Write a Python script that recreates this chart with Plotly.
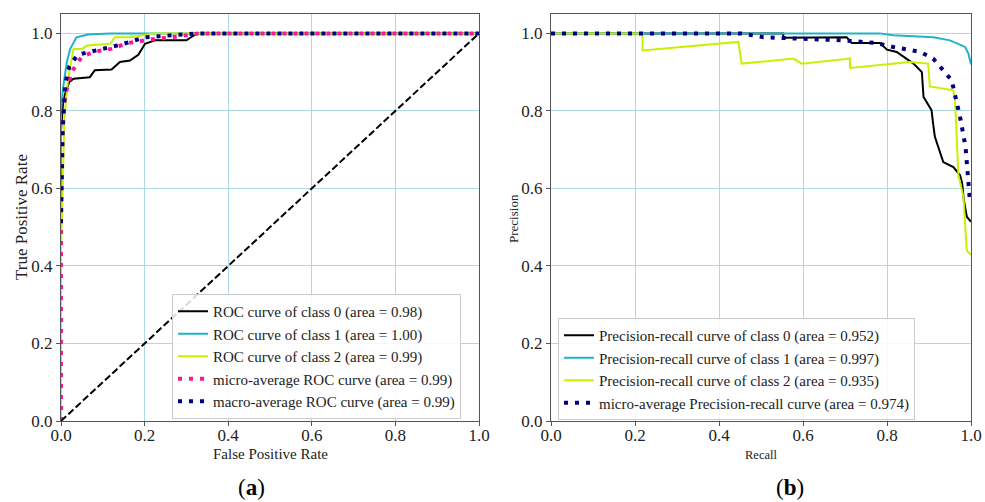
import plotly.graph_objects as go

# ---------------- ROC data (panel a) ----------------
roc0_fpr = [0.0, 0.0, 0.005, 0.01, 0.02, 0.03, 0.069, 0.081, 0.121, 0.141, 0.165, 0.185, 0.201, 0.225, 0.30, 0.325, 1.0]
roc0_tpr = [0.0, 0.75, 0.82, 0.845, 0.875, 0.883, 0.887, 0.905, 0.907, 0.926, 0.930, 0.945, 0.973, 0.982, 0.982, 1.0, 1.0]

roc1_fpr = [0.0, 0.0, 0.005, 0.014, 0.022, 0.037, 0.065, 0.117, 1.0]
roc1_tpr = [0.0, 0.80, 0.86, 0.926, 0.96, 0.99, 0.997, 1.0, 1.0]

roc2_fpr = [0.0, 0.0, 0.004, 0.008, 0.017, 0.03, 0.05, 0.063, 0.117, 0.129, 0.17, 0.22, 1.0]
roc2_tpr = [0.0, 0.44, 0.60, 0.78, 0.884, 0.96, 0.96, 0.969, 0.973, 0.99, 0.99, 1.0, 1.0]

micro_fpr = [0.0, 0.0, 0.004, 0.01, 0.025, 0.05, 0.08, 0.12, 0.16, 0.22, 0.30, 0.33, 1.0]
micro_tpr = [0.0, 0.62, 0.78, 0.84, 0.90, 0.94, 0.953, 0.96, 0.975, 0.985, 0.995, 1.0, 1.0]

macro_fpr = [0.0, 0.004, 0.01, 0.02, 0.04, 0.08, 0.14, 0.20, 0.33, 1.0]
macro_tpr = [0.51, 0.75, 0.87, 0.915, 0.945, 0.955, 0.97, 0.99, 1.0, 1.0]

chance_x = [0.0, 1.0]
chance_y = [0.0, 1.0]

# ---------------- Precision-recall data (panel b) ----------------
pr0_rec = [0.0, 0.553, 0.553, 0.704, 0.716, 0.783, 0.80, 0.823, 0.863, 0.883, 0.887, 0.906, 0.91, 0.914, 0.934, 0.958, 0.974, 0.979, 0.983, 0.99, 1.0]
pr0_pre = [1.0, 1.0, 0.989, 0.99, 0.975, 0.975, 0.958, 0.952, 0.922, 0.90, 0.836, 0.802, 0.765, 0.733, 0.668, 0.655, 0.634, 0.613, 0.57, 0.527, 0.514]

pr1_rec = [0.0, 0.783, 0.815, 0.91, 0.95, 0.986, 0.994, 0.999, 1.0]
pr1_pre = [1.0, 1.0, 0.995, 0.99, 0.982, 0.965, 0.947, 0.922, 0.92]

pr2_rec = [0.0, 0.218, 0.218, 0.446, 0.454, 0.577, 0.597, 0.712, 0.712, 0.855, 0.898, 0.902, 0.958, 0.962, 0.970, 0.982, 0.99, 1.0]
pr2_pre = [1.0, 1.0, 0.956, 0.978, 0.922, 0.935, 0.922, 0.935, 0.911, 0.926, 0.922, 0.863, 0.853, 0.827, 0.634, 0.578, 0.44, 0.428]

prm_rec = [0.0, 0.454, 0.506, 0.593, 0.696, 0.775, 0.815, 0.879, 0.91, 0.954, 0.966, 0.974, 0.987, 0.993, 0.998]
prm_pre = [1.0, 1.0, 0.99, 0.986, 0.982, 0.975, 0.965, 0.952, 0.935, 0.879, 0.823, 0.784, 0.707, 0.63, 0.56]

roc_names = [
    "ROC curve of class 0 (area = 0.98)",
    "ROC curve of class 1 (area = 1.00)",
    "ROC curve of class 2 (area = 0.99)",
    "micro-average ROC curve (area = 0.99)",
    "macro-average ROC curve (area = 0.99)",
]
pr_names = [
    "Precision-recall curve of class 0 (area = 0.952)",
    "Precision-recall curve of class 1 (area = 0.997)",
    "Precision-recall curve of class 2 (area = 0.935)",
    "micro-average Precision-recall curve (area = 0.974)",
]
axis_titles = ["False Positive Rate", "True Positive Rate", "Recall", "Precision"]
panel_labels = ["(<b>a</b>)", "(<b>b</b>)"]
tick_vals = [0.0, 0.2, 0.4, 0.6, 0.8, 1.0]
tick_text = ["0.0", "0.2", "0.4", "0.6", "0.8", "1.0"]

C_BLACK = "black"
C_CYAN = "#1fb3c9"
C_LIME = "#c8f000"
C_PINK = "#ff1493"
C_NAVY = "#000080"
FONT = "Liberation Serif"
DOT = "4px,7px"

fig = go.Figure()

def add(x, y, name, color, xa, ya, legend, dash="solid", width=2):
    fig.add_trace(go.Scatter(
        x=x, y=y, name=name, mode="lines", xaxis=xa, yaxis=ya, legend=legend,
        line=dict(color=color, width=width, dash=dash), showlegend=name is not None,
    ))

add(roc0_fpr, roc0_tpr, roc_names[0], C_BLACK, "x", "y", "legend")
add(roc1_fpr, roc1_tpr, roc_names[1], C_CYAN, "x", "y", "legend")
add(roc2_fpr, roc2_tpr, roc_names[2], C_LIME, "x", "y", "legend")
add(micro_fpr, micro_tpr, roc_names[3], C_PINK, "x", "y", "legend", DOT, 4)
add(macro_fpr, macro_tpr, roc_names[4], C_NAVY, "x", "y", "legend", DOT, 4)
add(chance_x, chance_y, None, C_BLACK, "x", "y", "legend", "7px,3px", 2)

add(pr0_rec, pr0_pre, pr_names[0], C_BLACK, "x2", "y2", "legend2")
add(pr1_rec, pr1_pre, pr_names[1], C_CYAN, "x2", "y2", "legend2")
add(pr2_rec, pr2_pre, pr_names[2], C_LIME, "x2", "y2", "legend2")
add(prm_rec, prm_pre, pr_names[3], C_NAVY, "x2", "y2", "legend2", DOT, 4)

W, H = 985, 502
def px_x(p):
    return p / W
def px_y(p):
    return (H - p) / H

axis_common = dict(
    range=[0, 1], tickvals=tick_vals, ticktext=tick_text,
    showgrid=True, gridcolor="#add8e6", gridwidth=1,
    showline=True, linecolor="#555555", linewidth=1, mirror=True,
    ticks="outside", ticklen=4, tickcolor="#555555",
    tickfont=dict(family=FONT, size=17, color="#222222"),
    zeroline=False, fixedrange=True, automargin=False,
)
xaxis_common = dict(axis_common, ticklabelstandoff=-5)
yaxis_common = dict(axis_common)
yaxis_common["range"] = [0, 1.05]

legend_common = dict(
    bgcolor="rgba(255,255,255,0.85)", bordercolor="#cccccc", borderwidth=1,
    font=dict(family=FONT, size=15, color="#222222"),
    xanchor="left", yanchor="top", itemwidth=30, tracegroupgap=0,
)

def label(text, x, y, size, angle=0, color="#222222"):
    return dict(text=text, x=px_x(x), y=px_y(y), xref="paper", yref="paper",
                xanchor="center", yanchor="middle", textangle=angle,
                showarrow=False, font=dict(family=FONT, size=size, color=color))

fig.update_layout(
    width=W, height=H, autosize=False,
    margin=dict(l=0, r=0, t=0, b=0, autoexpand=False),
    paper_bgcolor="white", plot_bgcolor="white",
    font=dict(family=FONT, color="#222222"),
    xaxis=dict(xaxis_common, domain=[px_x(61), px_x(479)], anchor="y"),
    yaxis=dict(yaxis_common, domain=[px_y(421), px_y(14)], anchor="x"),
    xaxis2=dict(xaxis_common, domain=[px_x(551), px_x(971)], anchor="y2"),
    yaxis2=dict(yaxis_common, domain=[px_y(421), px_y(14)], anchor="x2"),
    legend=dict(legend_common, x=px_x(172), y=px_y(294)),
    legend2=dict(legend_common, x=px_x(558), y=px_y(318)),
    showlegend=True,
    annotations=[
        label(axis_titles[0], 270, 454, 15),
        label(axis_titles[1], 22, 217, 17, -90),
        label(axis_titles[2], 761, 455, 12.5),
        label(axis_titles[3], 514, 219, 13, -90),
        label(panel_labels[0], 251, 487, 23, color="black"),
        label(panel_labels[1], 790, 487, 23, color="black"),
    ],
)

fig.write_html("out.html")
